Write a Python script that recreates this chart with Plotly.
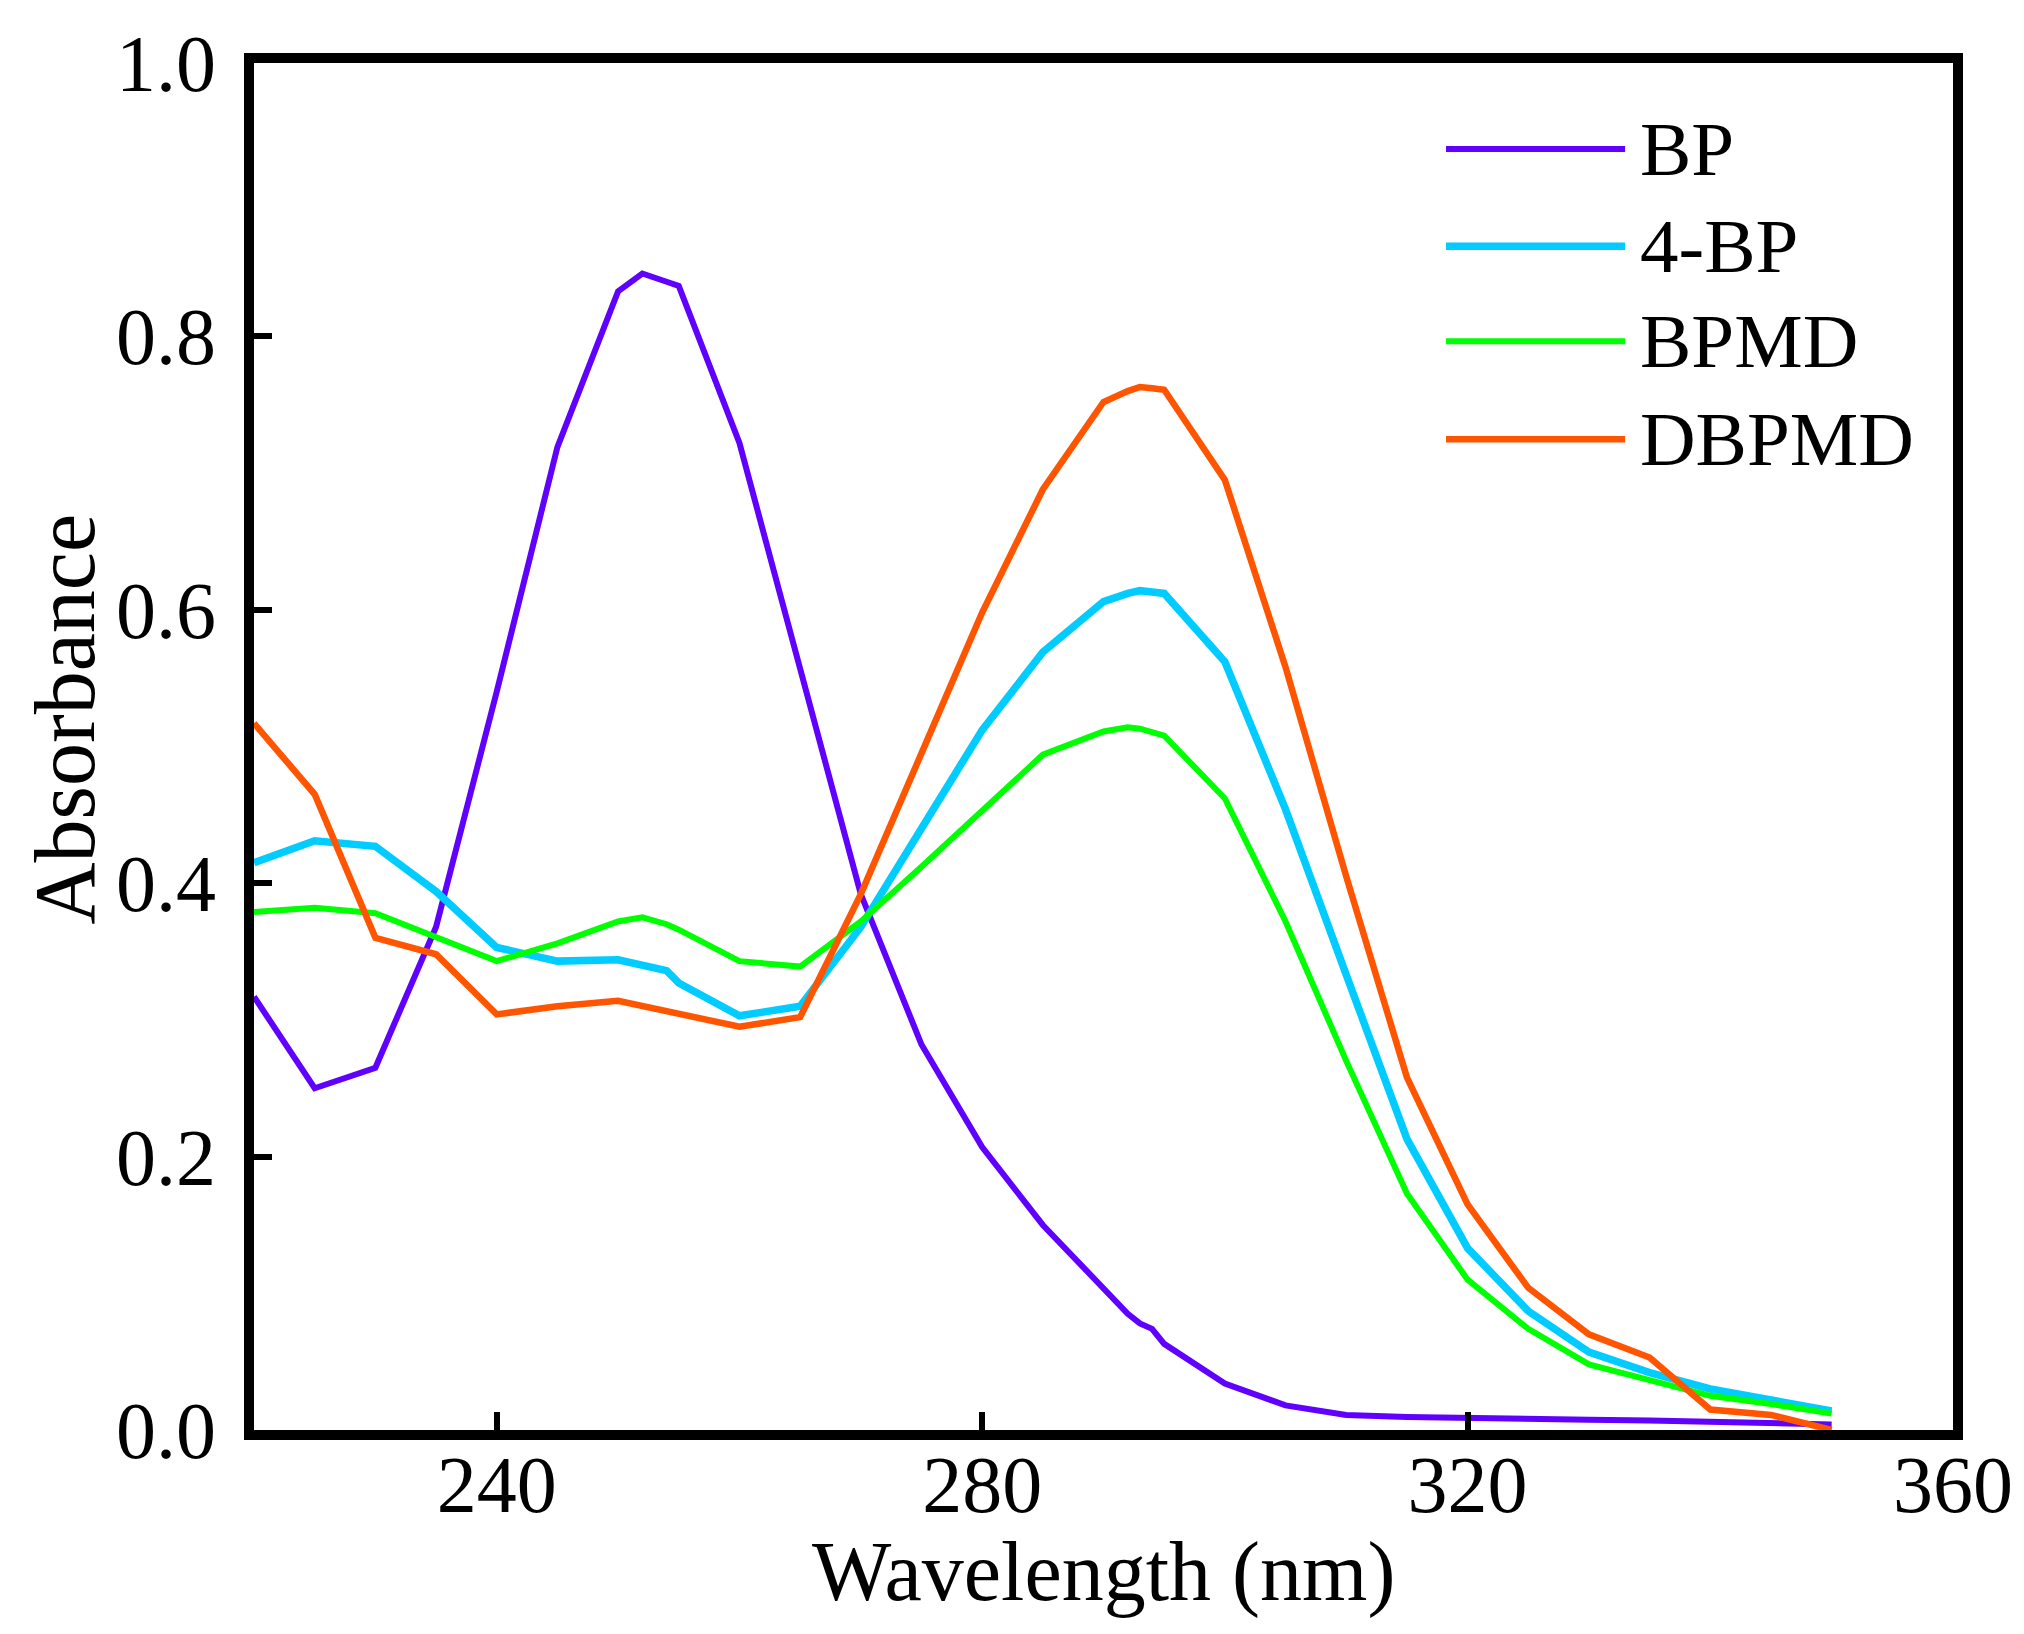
import plotly.graph_objects as go

wavelength = [220, 225, 230, 235, 240, 245, 250, 252, 254, 255, 260, 265, 270, 275, 280, 285,
              290, 292, 293, 294, 295, 300, 305, 310, 315, 320, 325, 330, 335, 340, 345, 350]

bp = [0.317, 0.250, 0.265, 0.368, 0.540, 0.719, 0.833, 0.846, 0.840, 0.837, 0.722, 0.556,
      0.392, 0.282, 0.207, 0.150, 0.104, 0.085, 0.078, 0.074, 0.063, 0.034, 0.018, 0.011,
      0.0095, 0.0085, 0.008, 0.0075, 0.007, 0.006, 0.005, 0.004]

bp4 = [0.415, 0.431, 0.427, 0.394, 0.353, 0.343, 0.344, 0.340, 0.336, 0.327, 0.303, 0.310,
       0.368, 0.440, 0.512, 0.569, 0.606, 0.612, 0.614, 0.613, 0.612, 0.562, 0.454, 0.333,
       0.213, 0.133, 0.087, 0.057, 0.042, 0.030, 0.022, 0.014]

bpmd = [0.379, 0.382, 0.378, 0.360, 0.343, 0.356, 0.372, 0.375, 0.370, 0.366, 0.343, 0.339,
        0.372, 0.412, 0.453, 0.494, 0.511, 0.514, 0.513, 0.511, 0.508, 0.462, 0.372, 0.270,
        0.173, 0.110, 0.074, 0.048, 0.036, 0.025, 0.019, 0.012]

dbpmd = [0.517, 0.465, 0.360, 0.348, 0.304, 0.310, 0.314, 0.310, 0.306, 0.304, 0.295, 0.302,
         0.392, 0.495, 0.598, 0.688, 0.752, 0.760, 0.763, 0.762, 0.761, 0.695, 0.558, 0.405,
         0.258, 0.165, 0.104, 0.070, 0.053, 0.015, 0.011, 0.000]

series_names = ["BP", "4-BP", "BPMD", "DBPMD"]
series_values = [bp, bp4, bpmd, dbpmd]
colors = ["#6000FF", "#00CCFF", "#00FF00", "#FF5500"]
widths = [6, 7.5, 6, 6.5]

x_ticks = [240, 280, 320, 360]
y_ticks = [0.0, 0.2, 0.4, 0.6, 0.8, 1.0]

FONT = "Liberation Serif, Times New Roman, serif"

fig = go.Figure()
for name, vals, col, w in zip(series_names, series_values, colors, widths):
    fig.add_trace(go.Scatter(x=wavelength, y=vals, mode="lines", name=name,
                             line=dict(color=col, width=w), showlegend=False))

# custom legend (long line samples as in the original)
legend_y = [0.937, 0.866, 0.7965, 0.7247]
for name, col, w, ly in zip(series_names, colors, widths, legend_y):
    fig.add_shape(type="line", xref="paper", yref="paper", x0=0.7016, x1=0.807, y0=ly, y1=ly,
                  line=dict(color=col, width=w))
    fig.add_annotation(xref="paper", yref="paper", x=0.8145, y=ly, text=name, showarrow=False,
                       xanchor="left", yanchor="middle", font=dict(family=FONT, size=77, color="black"))

# axis titles
fig.add_annotation(xref="paper", yref="paper", x=0.5, y=-0.104, text="Wavelength (nm)",
                   showarrow=False, xanchor="center", yanchor="middle",
                   font=dict(family=FONT, size=84, color="black"))
fig.add_annotation(xref="paper", yref="paper", x=-0.111, y=0.52, text="Absorbance",
                   showarrow=False, xanchor="center", yanchor="middle", textangle=-90,
                   font=dict(family=FONT, size=86, color="black"))

fig.update_layout(
    width=2024, height=1634,
    margin=dict(l=246, r=79, t=55, b=212),
    paper_bgcolor="white", plot_bgcolor="white",
    font=dict(family=FONT, size=80, color="black"),
)
fig.update_xaxes(
    range=[220, 360], tickvals=x_ticks, ticktext=[str(v) for v in x_ticks],
    showline=True, linewidth=10, linecolor="black", mirror=True,
    ticks="inside", ticklen=18, tickwidth=6, tickcolor="black",
    showgrid=False, zeroline=False,
    tickfont=dict(family=FONT, size=80),
    ticklabelstandoff=-24,
)
fig.update_yaxes(
    range=[0, 1.0], tickvals=y_ticks, ticktext=[f"{v:.1f}" for v in y_ticks],
    showline=True, linewidth=10, linecolor="black", mirror=True,
    ticks="inside", ticklen=18, tickwidth=6, tickcolor="black",
    showgrid=False, zeroline=False,
    tickfont=dict(family=FONT, size=80),
    ticklabelstandoff=12,
)

fig.write_html("out.html")
